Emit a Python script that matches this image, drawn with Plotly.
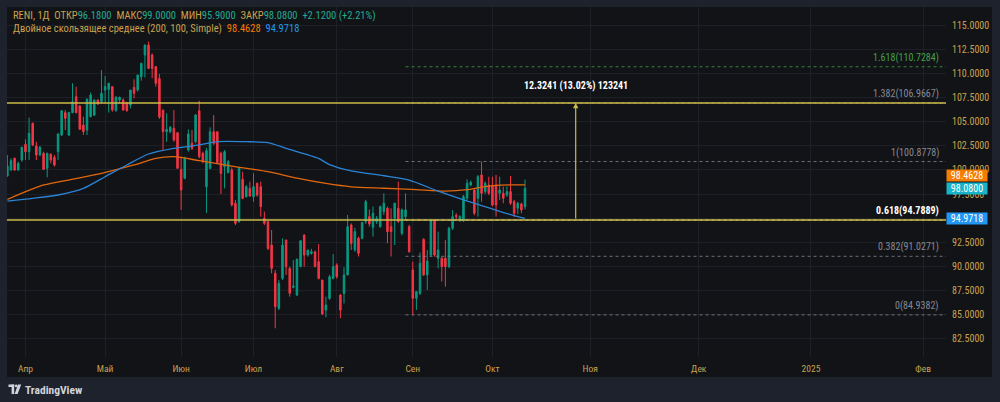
import plotly.graph_objects as go

# ---------------- data ----------------
opens = [99.37, 100.00, 101.21, 100.00, 101.04, 102.66, 101.90, 104.85, 102.49, 101.56,
         101.73, 100.17, 101.63, 101.31, 101.90, 103.63, 105.96, 103.63, 105.96, 107.62,
         106.65, 104.67, 104.15, 105.54, 105.71, 107.27, 107.10, 108.31, 108.38, 108.66,
         106.16, 107.27, 107.27, 106.93, 106.75, 108.59, 108.31, 109.70, 111.95, 112.99,
         111.95, 110.74, 109.50, 106.23, 103.98, 103.98, 104.33, 103.88, 100.07, 99.13,
         102.08, 102.77, 102.94, 106.16, 101.73, 98.26, 100.17, 103.98, 103.98, 101.73,
         100.34, 99.72, 100.00, 96.53, 94.63, 99.03, 97.22, 98.09, 97.22, 98.61,
         98.26, 94.97, 94.63, 92.20, 89.26, 85.62, 88.74, 92.72, 89.77, 87.80,
         87.00, 89.95, 93.24, 91.16, 91.33, 91.50, 90.47, 88.56, 85.44, 86.65,
         88.73, 90.12, 87.00, 87.17, 89.08, 94.28, 91.70, 92.90, 92.90, 94.63,
         95.15, 94.04, 94.63, 94.11, 95.67, 96.02, 94.11, 94.98, 96.02, 93.42,
         95.15, 94.11, 89.61, 86.66, 87.18, 92.79, 89.09, 91.16, 94.80, 90.82,
         90.82, 90.82, 89.95, 93.94, 95.29, 94.80, 94.73, 97.06, 98.44, 97.92,
         97.06, 99.48, 97.75, 98.44, 98.34, 98.44, 97.58, 97.58, 97.40, 97.75,
         96.71, 96.02, 96.47, 96.18]
highs = [101.56, 101.21, 101.30, 100.86, 102.42, 103.18, 105.44, 104.92, 102.94, 102.49,
         101.90, 101.80, 101.73, 101.56, 103.81, 106.23, 106.23, 106.06, 109.01, 108.66,
         106.75, 105.54, 107.45, 108.04, 107.34, 107.34, 110.39, 109.77, 109.08, 108.73,
         107.69, 107.62, 107.45, 107.10, 108.31, 109.42, 109.87, 111.15, 113.02, 113.34,
         112.12, 110.81, 110.00, 106.23, 105.89, 104.57, 106.23, 103.88, 101.38, 101.38,
         104.22, 104.15, 105.82, 107.20, 101.90, 102.30, 104.43, 105.71, 103.98, 101.90,
         102.08, 101.04, 100.27, 96.88, 100.34, 99.82, 98.44, 98.78, 99.65, 98.68,
         98.78, 95.67, 94.63, 93.76, 89.60, 88.56, 92.89, 92.72, 89.95, 90.64,
         90.81, 92.65, 93.30, 91.70, 91.80, 91.60, 92.30, 88.56, 86.83, 89.10,
         91.26, 90.30, 87.10, 89.88, 95.32, 94.45, 94.00, 93.07, 94.60, 96.90,
         95.91, 96.19, 95.20, 96.30, 97.58, 96.19, 96.02, 96.60, 98.79, 96.00,
         97.58, 94.30, 90.47, 87.40, 91.41, 92.90, 91.68, 94.80, 94.90, 93.59,
         91.00, 92.72, 94.10, 95.84, 95.50, 95.30, 97.40, 99.03, 98.90, 98.00,
         99.48, 100.88, 98.80, 99.30, 99.30, 99.48, 99.31, 98.27, 98.30, 99.38,
         96.90, 96.70, 96.60, 99.00]
lows = [99.30, 99.93, 99.90, 99.93, 100.86, 101.04, 101.04, 102.49, 101.04, 101.45,
        100.00, 99.23, 100.69, 100.34, 101.04, 103.53, 104.15, 103.53, 105.89, 105.89,
        104.15, 103.63, 103.63, 105.47, 105.61, 106.75, 106.93, 106.93, 105.96, 106.06,
        106.06, 106.93, 106.16, 106.06, 106.41, 107.45, 108.14, 109.28, 109.63, 110.56,
        109.53, 108.66, 105.30, 102.08, 102.94, 103.81, 102.94, 100.17, 95.84, 99.03,
        101.90, 102.08, 102.77, 101.21, 100.69, 95.53, 100.07, 102.60, 100.69, 97.50,
        98.09, 99.65, 96.19, 94.28, 94.52, 96.95, 97.15, 97.22, 96.70, 97.22,
        95.15, 94.28, 91.68, 89.26, 83.54, 85.44, 88.56, 89.08, 86.83, 87.69,
        86.90, 89.95, 89.95, 90.99, 91.20, 89.90, 88.63, 84.92, 84.68, 86.50,
        88.63, 88.70, 84.58, 86.13, 89.08, 91.68, 91.50, 91.00, 92.80, 94.40,
        94.11, 93.07, 94.40, 94.00, 95.32, 92.38, 91.00, 92.20, 94.50, 93.20,
        94.80, 91.40, 84.94, 85.45, 87.00, 88.98, 87.53, 91.00, 91.00, 89.78,
        88.40, 87.87, 89.80, 93.76, 94.80, 94.60, 94.60, 96.88, 98.30, 95.30,
        95.15, 96.71, 97.50, 97.40, 96.20, 95.15, 96.88, 96.54, 97.20, 96.36,
        95.10, 95.40, 95.50, 95.90]
closes = [100.41, 100.97, 100.00, 100.69, 102.35, 101.90, 103.81, 102.60, 101.56, 102.35,
          100.07, 101.73, 101.04, 100.52, 103.74, 106.16, 105.37, 105.96, 107.10, 105.96,
          104.22, 103.98, 107.34, 107.79, 107.27, 106.86, 107.97, 108.66, 109.01, 106.23,
          107.55, 107.55, 106.23, 106.16, 108.31, 107.97, 109.87, 111.08, 112.99, 110.56,
          110.56, 109.01, 105.50, 103.98, 104.22, 104.43, 103.11, 100.17, 97.92, 101.21,
          103.74, 102.25, 105.71, 101.38, 100.86, 102.00, 103.98, 102.77, 100.76, 99.65,
          101.90, 100.86, 96.36, 94.45, 100.17, 97.05, 98.26, 97.29, 98.26, 97.40,
          96.19, 94.45, 91.85, 89.77, 85.79, 88.22, 92.20, 89.95, 87.18, 87.94,
          90.71, 92.65, 91.16, 91.68, 91.50, 89.95, 88.73, 85.03, 85.96, 88.90,
          89.95, 88.90, 85.44, 89.08, 94.10, 92.37, 93.60, 91.34, 94.53, 96.71,
          94.39, 95.50, 94.98, 96.19, 96.54, 93.59, 93.59, 96.54, 94.63, 95.85,
          95.85, 91.51, 86.66, 87.35, 90.30, 89.09, 90.54, 94.73, 91.16, 91.69,
          89.95, 89.95, 93.94, 95.15, 95.15, 95.15, 97.23, 98.62, 98.72, 95.50,
          99.31, 97.58, 98.62, 97.58, 96.36, 96.36, 97.92, 97.06, 97.75, 96.54,
          95.50, 96.54, 95.85, 98.08]
bars = list(range(len(closes)))

# moving averages read at sampled bars
ma200_bars = [0, 9, 16, 26, 35, 41, 46, 53, 62, 72, 80, 88, 95, 104, 113, 121, 127, 131, 136, 143]
ma200_vals = [96.95, 98.33, 98.89, 99.65, 100.52, 101.21, 101.38, 100.97, 100.41, 99.82,
              99.15, 98.60, 98.25, 98.10, 97.95, 97.80, 97.95, 98.22, 98.42, 98.46]
ma100_bars = [0, 7, 14, 21, 27, 33, 39, 46, 53, 58, 66, 72, 77, 86, 89, 95, 104, 111,
              119, 126, 131, 136, 141, 143]
ma100_vals = [96.77, 97.05, 97.40, 98.09, 99.30, 100.52, 101.66, 102.25, 102.60, 102.94,
              102.94, 102.84, 102.25, 101.20, 100.55, 99.90, 99.40, 98.95, 97.80, 96.90,
              96.30, 95.70, 95.15, 94.97]

month_labels = ["Апр", "Май", "Июн", "Июл", "Авг", "Сен", "Окт", "Ноя", "Дек", "2025", "Фев"]
month_bars = [5, 27, 48, 68, 91, 112, 134, 161, 191, 222, 253]

fib_ratios = ["0", "0.382", "0.618", "1", "1.382", "1.618"]
fib_prices = [84.9382, 91.0271, 94.7889, 100.8778, 106.9667, 110.7284]
fib_start_bar = 110

hline_prices = [94.7889, 106.9667]
measure_bar = 157
measure_text = "12.3241 (13.02%) 123241"

ma_slow_value = 98.4628
ma_fast_value = 94.9718
last_close = 98.08

# ---------------- styles ----------------
FRAME = "#1e222d"
PANEL = "#121317"
GRID = "#1d2027"
AMBER = "#c9a24d"
TEAL = "#22ab94"
GREEN = "#089981"
RED = "#f23645"
ORANGE = "#f57c00"
ORANGE_LINE = "#e0670e"
BLUE = "#2196f3"
BLUE_LINE = "#2b84d6"
YELLOW = "#cdbb48"
FIBGRAY = "#868993"
FIBGREEN = "#43a047"
FONT = "Liberation Sans Narrow, Roboto Condensed, Roboto, sans-serif"

L, R, T, B = 7, 946, 7, 357
W, H = R - L, B - T
def px_x(px):
    return (px - L) / W
def px_y(py):
    return (B - py) / H

Y_RANGE = [80.56, 116.94]
X_RANGE = [-0.1, 259.3]

fig = go.Figure()

fig.add_trace(go.Candlestick(
    x=bars, open=opens, high=highs, low=lows, close=closes,
    increasing=dict(line=dict(color=GREEN, width=1), fillcolor=GREEN),
    decreasing=dict(line=dict(color=RED, width=1), fillcolor=RED),
    whiskerwidth=0, hoverinfo="skip", showlegend=False))

fig.add_trace(go.Scatter(x=ma200_bars, y=ma200_vals, mode="lines",
                         line=dict(color=ORANGE_LINE, width=1.3, shape="spline", smoothing=0.7),
                         hoverinfo="skip", showlegend=False))
fig.add_trace(go.Scatter(x=ma100_bars, y=ma100_vals, mode="lines",
                         line=dict(color=BLUE_LINE, width=1.3, shape="spline", smoothing=0.7),
                         hoverinfo="skip", showlegend=False))

shapes = []
# panel background (plot + axes area)
shapes.append(dict(type="rect", xref="paper", yref="paper", x0=px_x(7), x1=px_x(992),
                   y0=px_y(377), y1=px_y(7), fillcolor=PANEL, line=dict(width=0), layer="below"))

# fib levels (dotted)
for r, p in zip(fib_ratios, fib_prices):
    col = FIBGREEN if r == "1.618" else ("#d1d4dc" if r == "0.618" else FIBGRAY)
    shapes.append(dict(type="line", xref="x", yref="y", x0=fib_start_bar, x1=300, y0=p, y1=p,
                       line=dict(color=col, width=1, dash="dot"), opacity=0.8, layer="above"))
# yellow horizontal lines
for p in hline_prices:
    shapes.append(dict(type="line", xref="x", yref="y", x0=-5, x1=300, y0=p, y1=p,
                       line=dict(color=YELLOW, width=1.5), layer="above"))

# TradingView logo glyph
def prect(x0, y0, x1, y1):
    return dict(type="rect", xref="paper", yref="paper", x0=px_x(x0), x1=px_x(x1),
                y0=px_y(y1), y1=px_y(y0), fillcolor="#d1d4dc", line=dict(width=0))
shapes.append(prect(8.5, 384.5, 14.2, 387.0))
shapes.append(prect(11.6, 384.5, 14.2, 394.0))
shapes.append(dict(type="circle", xref="paper", yref="paper", x0=px_x(14.9), x1=px_x(17.5),
                   y0=px_y(387.2), y1=px_y(384.6), fillcolor="#d1d4dc", line=dict(width=0)))
shapes.append(dict(type="path", xref="paper", yref="paper",
                   path="M {} {} L {} {} L {} {} L {} {} Z".format(
                       px_x(18.0), px_y(384.5), px_x(21.2), px_y(384.5),
                       px_x(17.6), px_y(394.0), px_x(14.6), px_y(394.0)),
                   fillcolor="#d1d4dc", line=dict(width=0)))

fig.update_layout(shapes=shapes)

ann = []
sp = "\u00a0"
line1 = (f'<span style="color:{AMBER}">RENI, 1Д{sp}{sp}ОТКР</span><span style="color:{TEAL}">96.1800</span>'
         f'<span style="color:{AMBER}">{sp}{sp}МАКС</span><span style="color:{TEAL}">99.0000</span>'
         f'<span style="color:{AMBER}">{sp}{sp}МИН</span><span style="color:{TEAL}">95.9000</span>'
         f'<span style="color:{AMBER}">{sp}{sp}ЗАКР</span><span style="color:{TEAL}">98.0800{sp}{sp}+2.1200 (+2.21%)</span>')
line2 = (f'<span style="color:{AMBER}">Двойное скользящее среднее (200, 100, Simple)</span>'
         f'<span style="color:{ORANGE}">{sp}{sp}{ma_slow_value:.4f}</span>'
         f'<span style="color:{BLUE}">{sp}{sp}{ma_fast_value:.4f}</span>')
ann.append(dict(xref="paper", yref="paper", x=px_x(11), y=px_y(15), xanchor="left", yanchor="middle",
                text=line1, showarrow=False, font=dict(family=FONT, size=10.5, color=AMBER)))
ann.append(dict(xref="paper", yref="paper", x=px_x(11), y=px_y(29), xanchor="left", yanchor="middle",
                text=line2, showarrow=False, font=dict(family=FONT, size=10.5, color=AMBER)))

# fib labels
for r, p in zip(fib_ratios, fib_prices):
    col = FIBGREEN if r == "1.618" else ("#ffffff" if r == "0.618" else FIBGRAY)
    txt = f"{r}({p:.4f})"
    if r == "0.618":
        txt = f"<b>{txt}</b>"
    ann.append(dict(xref="paper", yref="y", x=px_x(941), y=p, xanchor="right", yanchor="bottom",
                    text=txt, showarrow=False, yshift=1, font=dict(family=FONT, size=10, color=col)))

# measurement arrow and label
ann.append(dict(xref="x", yref="y", x=measure_bar, y=hline_prices[1], ax=measure_bar, ay=hline_prices[0],
                axref="x", ayref="y", showarrow=True, arrowhead=2, arrowsize=0.9, arrowwidth=1.2,
                arrowcolor=YELLOW, text="", standoff=0, startstandoff=0))
ann.append(dict(xref="x", yref="y", x=measure_bar, y=hline_prices[1], yshift=17, xanchor="center",
                yanchor="middle", text=f"<b>{measure_text}</b>", showarrow=False,
                font=dict(family=FONT, size=10, color="#ffffff")))

# right-side price boxes
def price_box(val, color, yshift=0):
    return dict(xref="paper", yref="y", x=1.0, y=val, xanchor="left", yanchor="middle",
                text=f"{val:.4f}", showarrow=False, bgcolor=color, width=38, height=9,
                borderpad=1, yshift=yshift, align="center",
                font=dict(family=FONT, size=10, color="#ffffff"))
ann.append(price_box(ma_slow_value, ORANGE, yshift=9))
ann.append(price_box(last_close, "#17b4c9"))
ann.append(price_box(ma_fast_value, BLUE))

# TradingView wordmark
ann.append(dict(xref="paper", yref="paper", x=px_x(22.5), y=px_y(389.5), xanchor="left", yanchor="middle",
                text="<b>TradingView</b>", showarrow=False,
                font=dict(family=FONT, size=11.5, color="#d1d4dc")))

fig.update_layout(
    width=1000, height=402,
    margin=dict(l=L, r=1000 - R, t=T, b=402 - B, pad=0),
    paper_bgcolor=FRAME, plot_bgcolor=PANEL,
    showlegend=False, boxgap=0.4,
    annotations=ann,
    xaxis=dict(range=X_RANGE, tickmode="array", tickvals=month_bars, ticktext=month_labels,
               showgrid=True, gridcolor=GRID, gridwidth=1, zeroline=False, showline=False,
               ticks="", ticklabelstandoff=4, rangeslider=dict(visible=False),
               tickfont=dict(family=FONT, size=9.5, color=AMBER), fixedrange=True),
    yaxis=dict(range=Y_RANGE, side="right", tick0=0, dtick=2.5, tickformat=".4f",
               showgrid=True, gridcolor=GRID, gridwidth=1, zeroline=False, showline=False,
               ticks="", ticklabelstandoff=5,
               tickfont=dict(family=FONT, size=10, color=AMBER), fixedrange=True),
    hovermode=False,
)

fig.write_html("out.html")
